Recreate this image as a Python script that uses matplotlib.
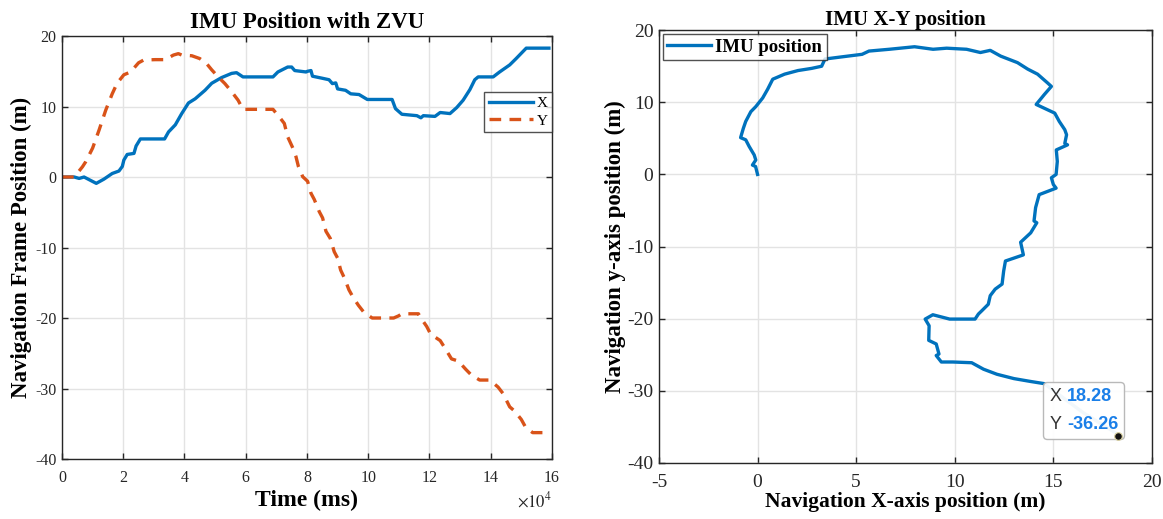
import numpy as np
import matplotlib
matplotlib.use("Agg")
import matplotlib.pyplot as plt
from matplotlib.ticker import FuncFormatter
from matplotlib.offsetbox import TextArea, HPacker, VPacker, AnnotationBbox

plt.rcParams['font.family'] = ['Liberation Serif', 'DejaVu Serif']
plt.rcParams['mathtext.fontset'] = 'stix'
plt.rcParams['axes.unicode_minus'] = False

# navigation frame position vs time (ms)
t_x = [0, 4000, 5600, 7200, 11200, 13700, 16400, 18600, 19700, 20200, 21300, 23500,
       24200, 25600, 33500, 34800, 37000, 39100, 41300, 43500, 46700, 48900, 52100,
       55400, 57000, 59100, 68900, 70500, 73700, 75000, 76000, 79700, 80200, 81300,
       81800, 85100, 87200, 88300, 89400, 90000, 92600, 94300, 97000, 99700, 107800,
       108900, 111000, 115900, 117200, 118000, 121800, 123500, 126700, 128900, 131000,
       133200, 134800, 135900, 140800, 142900, 146200, 148300, 151600, 159000]
x_pos = [0, 0, -0.2, 0, -0.9, -0.3, 0.5, 0.85, 1.5, 2.4, 3.2, 3.35, 4.4, 5.4, 5.4,
         6.4, 7.4, 9.0, 10.5, 11.1, 12.3, 13.3, 14.1, 14.7, 14.8, 14.2, 14.2, 14.9,
         15.6, 15.6, 15.1, 14.9, 15.0, 15.1, 14.3, 14.0, 13.8, 13.25, 13.35, 12.5,
         12.3, 11.8, 11.7, 11.0, 11.0, 9.7, 8.9, 8.7, 8.4, 8.7, 8.6, 9.15, 9.0, 9.85,
         10.9, 12.4, 13.8, 14.2, 14.2, 14.9, 15.9, 16.8, 18.28, 18.28]

t_y = [0, 4000, 6700, 7800, 10000, 12100, 14300, 16400, 18000, 20200, 22400, 25000,
       26700, 30500, 33700, 36400, 38000, 39100, 42400, 45000, 47200, 48900, 51000,
       53200, 55400, 57500, 59100, 68900, 71000, 72600, 73700, 75400, 76400, 77200,
       78600, 80200, 81300, 82400, 84000, 85100, 86200, 87600, 88900, 90000, 91000,
       92300, 93700, 95100, 96800, 98600, 101300, 108300, 109900, 111000, 116400,
       117200, 119100, 120400, 123500, 125100, 127200, 129400, 131900, 133700, 136400,
       139700, 142400, 144000, 146200, 147800, 150000, 151400, 153700, 157000]
y_pos = [0, 0, 1.46, 2.2, 4.1, 6.65, 9.5, 11.8, 13.3, 14.5, 14.9, 16.2, 16.6, 16.65,
         16.65, 17.3, 17.5, 17.3, 17.2, 16.8, 16.1, 15.2, 14.2, 13.25, 12.1, 10.9,
         9.6, 9.6, 8.5, 7.6, 5.7, 4.1, 2.9, 1.5, 0.05, -0.6, -2.3, -3.2, -4.9, -5.8,
         -7.7, -8.7, -10.6, -11.5, -13.2, -14.4, -16.0, -17.1, -18.2, -19.2, -20.0,
         -20.0, -19.7, -19.4, -19.4, -20.0, -21.2, -22.3, -23.2, -24.3, -25.8, -26.1,
         -27.3, -28.1, -28.8, -28.8, -29.8, -30.7, -32.6, -33.2, -34.4, -35.5, -36.26,
         -36.26]

# horizontal trajectory (m)
path_x = [0.0, -0.1, -0.26, -0.09, -0.17, -0.43, -0.6, -0.86, -0.72, -0.6, -0.34,
          -0.09, 0.26, 0.51, 0.77, 1.37, 2.05, 2.74, 3.25, 3.42, 4.28, 5.3, 5.65,
          6.68, 7.96, 8.9, 9.59, 10.6, 11.3, 11.8, 12.33, 13.18, 13.7, 14.2, 14.7,
          14.9, 14.55, 14.13, 15.07, 15.3, 15.58, 15.67, 15.58, 15.72, 15.15, 15.2,
          15.14, 14.9, 15.0, 15.14, 14.28, 14.1, 14.02, 14.16, 13.85, 13.34, 13.48,
          12.57, 12.48, 12.4, 12.05, 11.8, 11.7, 11.37, 11.2, 11.03, 9.74, 8.89, 8.5,
          8.7, 8.68, 9.06, 9.2, 9.06, 9.32, 9.9, 10.86, 11.46, 12.14, 13.0, 13.85,
          14.54, 16.5, 18.2, 18.28]
path_y = [0.0, 1.1, 1.3, 2.0, 2.7, 3.9, 4.8, 5.1, 6.4, 7.35, 8.7, 9.4, 10.6, 11.8,
          13.2, 13.9, 14.4, 14.7, 15.0, 16.0, 16.3, 16.65, 17.1, 17.35, 17.7, 17.35,
          17.5, 17.35, 16.9, 17.2, 16.4, 15.5, 14.6, 13.9, 12.7, 12.2, 11.1, 9.7, 8.5,
          7.35, 6.2, 5.5, 4.3, 4.1, 3.4, 1.8, 0.0, -0.46, -1.4, -1.9, -2.8, -4.6,
          -6.45, -6.7, -8.1, -9.4, -11.15, -12.0, -13.4, -15.2, -15.9, -16.8, -18.0,
          -18.9, -19.35, -20.05, -20.05, -19.45, -20.05, -20.97, -23.0, -23.5, -24.9,
          -25.1, -26.0, -26.0, -26.1, -27.0, -27.7, -28.3, -28.7, -29.0, -33.0,
          -35.9, -36.26]

tip_x, tip_y = 18.28, -36.26

blue = '#0072BD'
orange = '#D95319'
ink = '#262626'

fig = plt.figure(figsize=(11.63, 5.19), dpi=100)
ax1 = fig.add_axes([0.0533, 0.1156, 0.4213, 0.815])
ax2 = fig.add_axes([0.5666, 0.1079, 0.4239, 0.834])

for ax in (ax1, ax2):
    ax.grid(True, color='#e3e3e3', linewidth=1.0)
    ax.set_axisbelow(True)
    ax.tick_params(direction='in', top=True, right=True, length=4, width=1,
                   color=ink, labelcolor=ink)
    for s in ax.spines.values():
        s.set_color(ink)
        s.set_linewidth(1.0)

# left: position components over time
ax1.plot(t_x, x_pos, color=blue, linewidth=2.4, label='X')
ax1.plot(t_y, y_pos, color=orange, linewidth=2.4, linestyle=(0, (3.5, 2.5)),
         label='Y')
ax1.set_xlim(0, 160000)
ax1.set_ylim(-40, 20)
ax1.set_xticks(np.arange(0, 160001, 20000))
ax1.set_yticks(np.arange(-40, 21, 10))
ax1.xaxis.set_major_formatter(FuncFormatter(lambda v, p: f'{v / 1e4:g}'))
ax1.tick_params(axis='x', labelsize=11.5, pad=8)
ax1.tick_params(axis='y', labelsize=11.5, pad=4)
ax1.text(1.0, -0.077, r'$\times10^{4}$', transform=ax1.transAxes, ha='right',
         va='top', fontsize=12, color=ink)
ax1.set_title('IMU Position with ZVU', fontsize=16.5, fontweight='bold', pad=6)
ax1.set_xlabel('Time (ms)', fontsize=17, fontweight='bold', labelpad=3)
ax1.set_ylabel('Navigation Frame Position (m)', fontsize=16.5, fontweight='bold',
               labelpad=2)
leg1 = ax1.legend(loc='center right', bbox_to_anchor=(1.0, 0.82), fontsize=11,
                  fancybox=False, edgecolor=ink, handlelength=2.9,
                  handletextpad=0.2, borderpad=0.3, labelspacing=0.25,
                  borderaxespad=0.0)
leg1.get_frame().set_linewidth(1.0)

# right: X-Y trajectory
ax2.plot(path_x, path_y, color=blue, linewidth=2.4, label='IMU position')
ax2.plot([tip_x], [tip_y], 'o', color='#111111', markersize=5.5,
         markeredgecolor='#d8d0a0', markeredgewidth=0.8, zorder=6)
ax2.set_xlim(-5, 20)
ax2.set_ylim(-40, 20)
ax2.set_xticks(np.arange(-5, 21, 5))
ax2.set_yticks(np.arange(-40, 21, 10))
ax2.tick_params(axis='x', labelsize=14, pad=8)
ax2.tick_params(axis='y', labelsize=14, pad=4)
ax2.set_title('IMU X-Y position', fontsize=15, fontweight='bold', pad=4)
ax2.set_xlabel('Navigation X-axis position (m)', fontsize=15.5, fontweight='bold',
               labelpad=1)
ax2.set_ylabel('Navigation y-axis position (m)', fontsize=16.5, fontweight='bold',
               labelpad=1)
leg2 = ax2.legend(loc='upper left', prop={'size': 13.5, 'weight': 'bold'},
                  fancybox=False, edgecolor=ink, handlelength=2.35,
                  handletextpad=0.2, borderpad=0.25, borderaxespad=0.2)
leg2.get_frame().set_linewidth(1.0)

# data tip on the last sample
tip_font = dict(family=['Liberation Sans', 'DejaVu Sans'], size=13)
rows = []
for lab, val in (('X', f'{tip_x:.2f}'), ('Y', f'{tip_y:.2f}')):
    rows.append(HPacker(children=[
        TextArea(lab, textprops=dict(color='#333333', **tip_font)),
        TextArea(val, textprops=dict(color='#1a7fe8', fontweight='bold', **tip_font)),
    ], sep=4, pad=0, align='baseline'))
tip_box = VPacker(children=rows, sep=8, pad=0, align='left')
ab = AnnotationBbox(tip_box, (tip_x, tip_y), xybox=(0, 2),
                    boxcoords='offset points', box_alignment=(1, 0), pad=0.5,
                    bboxprops=dict(boxstyle='round,pad=0.45,rounding_size=0.3',
                                   fc='white', ec='#b5b5b5', lw=1.0, alpha=0.95),
                    zorder=5)
ax2.add_artist(ab)

fig.savefig('out.png', dpi=100)
